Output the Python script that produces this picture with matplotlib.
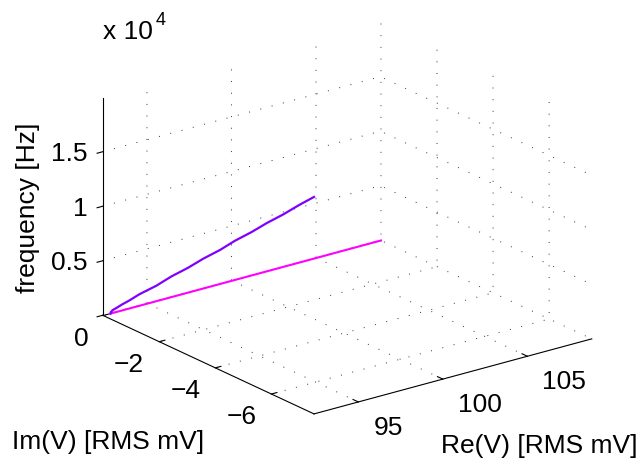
import numpy as np
import matplotlib
matplotlib.use("Agg")
import matplotlib.pyplot as plt
from mpl_toolkits.mplot3d import proj3d

plt.rcParams['font.family'] = ['Liberation Sans', 'DejaVu Sans']

# ---------------- data ----------------
freq_purple = [0, 250, 500, 800, 1200, 1800, 2500, 3500, 5000, 6500, 8000,
               9500, 11000, 12500, 14000, 15500, 17000, 18500, 19900]
re_purple = [92.81, 92.70, 92.59, 92.49, 92.43, 92.40, 92.39, 92.38, 92.39,
             92.38, 92.39, 92.38, 92.39, 92.38, 92.38, 92.39, 92.38, 92.38, 92.38]
im_purple = [0.00, -0.075, -0.17, -0.28, -0.44, -0.66, -0.93, -1.29, -1.89,
             -2.43, -3.02, -3.57, -4.16, -4.70, -5.29, -5.84, -6.43, -6.98, -7.52]

freq_magenta = [0, 0]
re_magenta = [92.81, 108.81]
im_magenta = [0.0, 0.0]

re_ticks = [95, 100, 105]
im_ticks = [0, -2, -4, -6]
freq_ticks = [0, 5000, 10000, 15000]
re_ticklabels = ['95', '100', '105']
im_ticklabels = ['0', '\u22122', '\u22124', '\u22126']
freq_ticklabels = ['', '0.5', '1', '1.5']

xlim = (92.38, 108.81)
ylim = (-7.52, 0.02)
zlim = (0, 19900)

W, H = 644, 465
FS = 19

fig = plt.figure(figsize=(W / 100, H / 100), dpi=100)
ax = fig.add_axes([0, 0, 1, 1], projection='3d', proj_type='ortho')
ax.computed_zorder = False
ax.patch.set_visible(False)
ax.set_xlim(*xlim)
ax.set_ylim(*ylim)
ax.set_zlim(*zlim)
ax.set_box_aspect((1, 1, 0.665))
ax.view_init(elev=20.8, azim=-127.27)

ax.set_xticks(re_ticks, labels=[''] * len(re_ticks))
ax.set_yticks(im_ticks, labels=[''] * len(im_ticks))
ax.set_zticks(freq_ticks, labels=[''] * len(freq_ticks))
for axis in (ax.xaxis, ax.yaxis, ax.zaxis):
    axis.set_pane_color((1, 1, 1, 0))
    axis.pane.set_edgecolor((1, 1, 1, 0))
    axis.line.set_color((1, 1, 1, 0))
    axis._axinfo['tick']['inward_factor'] = 0
    axis._axinfo['tick']['outward_factor'] = 0
    axis._axinfo['grid']['color'] = (0.2, 0.2, 0.2, 1)
    axis._axinfo['grid']['linewidth'] = 0.7
    axis._axinfo['grid']['linestyle'] = (0, (1, 11))
ax.grid(True)

# curves
ax.plot(re_magenta, im_magenta, freq_magenta, color='#FF00FF', lw=1.5, zorder=4)
ax.plot(re_purple, im_purple, freq_purple, color='#8000FF', lw=1.6, zorder=5)

# axis lines (MATLAB style, only the three labelled edges)
x0, x1 = xlim
y0, y1 = ylim
z0, z1 = zlim
ax.plot([x0, x0], [y1, y1], [z0, z1], color='k', lw=0.8, zorder=3)
ax.plot([x0, x0], [y1, y0], [z0, z0], color='k', lw=0.8, zorder=3)
ax.plot([x0, x1], [y0, y0], [z0, z0], color='k', lw=0.8, zorder=3)
rx, ry = x1 - x0, y1 - y0
for z in freq_ticks:
    ax.plot([x0, x0 - 0.02 * rx], [y1, y1], [z, z], color='k', lw=0.8, zorder=3)
for y in im_ticks:
    ax.plot([x0, x0 + 0.02 * rx], [y, y], [z0, z0], color='k', lw=0.8, zorder=3)
for x in re_ticks:
    ax.plot([x, x], [y0, y0 + 0.025 * ry], [z0, z0], color='k', lw=0.8, zorder=3)

# ---- fit the projected box to the reference layout ----
def proj(xs, ys, zs):
    X, Y, _ = proj3d.proj_transform(np.atleast_1d(np.asarray(xs, float)),
                                    np.atleast_1d(np.asarray(ys, float)),
                                    np.atleast_1d(np.asarray(zs, float)), ax.M)
    return ax.transData.transform(np.column_stack([X, Y]))

corners = ([x0, x1, x0, x0, x1], [y1, y0, y1, y0, y1], [z0, z0, z1, z0, z0])
targets = np.array([[102.7, H - 315.3], [591.7, H - 339.0], [102.7, H - 98.3],
                    [314.0, H - 414.0], [380.4, H - 240.0]])
for _ in range(2):
    fig.canvas.draw()
    S = proj(*corners)
    bb = ax.get_position().transformed(fig.transFigure)
    c = np.array([(bb.x0 + bb.x1) / 2, (bb.y0 + bb.y1) / 2])
    Sm, Tm = S.mean(0), targets.mean(0)
    s = np.sum((S - Sm) * (targets - Tm)) / np.sum((S - Sm) ** 2)
    cn = Tm - s * (Sm - c)
    w, h = s * bb.width, s * bb.height
    ax.set_position([(cn[0] - w / 2) / W, (cn[1] - h / 2) / H, w / W, h / H])
fig.canvas.draw()

def put(px, py, txt, **kw):
    fig.text(px / W, py / H, txt, fontsize=kw.pop('fontsize', FS), **kw)

for z, lab in zip(freq_ticks, freq_ticklabels):
    p = proj(x0, y1, z)[0]
    put(p[0] - 15, p[1] - 9.5, lab, ha='right', va='baseline')
for y, lab in zip(im_ticks, im_ticklabels):
    p = proj(x0, y, z0)[0]
    put(p[0] - 15, p[1] - 30, lab, ha='right', va='baseline')
for x, lab in zip(re_ticks, re_ticklabels):
    p = proj(x, y0, z0)[0]
    put(p[0] + 15, p[1] - 33, lab, ha='left', va='baseline')

put(12, H - 449, 'Im(V) [RMS mV]', ha='left', va='baseline')
put(441, H - 453, 'Re(V) [RMS mV]', ha='left', va='baseline')
put(28, H - 208, 'frequency [Hz]', ha='center', va='center', rotation=90)
put(103, H - 39, 'x 10', ha='left', va='baseline')
put(156, H - 25, '4', ha='left', va='baseline', fontsize=13)

fig.savefig('out.png', dpi=100, facecolor='white')
